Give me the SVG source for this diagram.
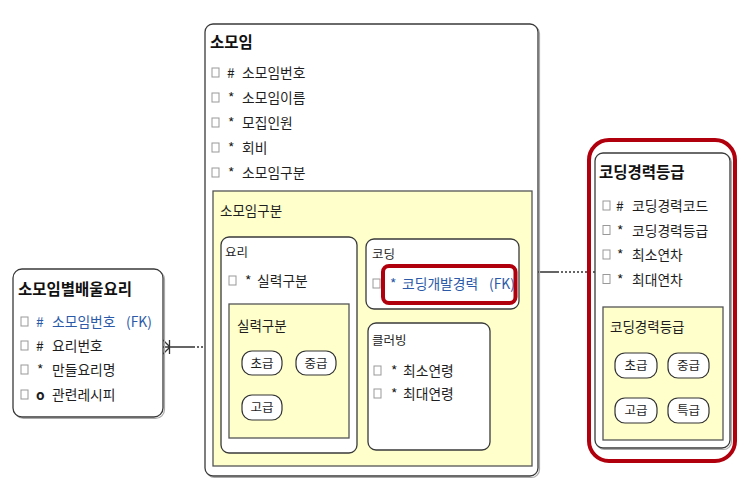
<svg xmlns="http://www.w3.org/2000/svg" width="748" height="504" viewBox="0 0 748 504">
<style>
text{font-family:"Noto Sans CJK KR","Noto Sans",sans-serif;fill:#1e1e1e}
.t{font-size:15.5px;font-weight:bold;fill:#111}
.a{font-size:13.8px}
.s{font-size:13.5px}
.st{font-size:12.5px}
.p{font-size:12.5px;text-anchor:middle}
.fk{fill:#2b5aa8}
.box{fill:#fff;stroke:#3a3a3a;stroke-width:1.3}
.sh{fill:none;stroke:#aaa;stroke-width:1.2}
.yel{fill:#ffffcc;stroke:#555;stroke-width:1.3}
.pill{fill:#fff;stroke:#333;stroke-width:1.2}
.cb{fill:#fff;stroke:#999;stroke-width:1}
.red{fill:none;stroke:#b0000e;stroke-width:4}
.ln{fill:none;stroke:#333;stroke-width:1.3}
.dot{fill:none;stroke:#333;stroke-width:1.3;stroke-dasharray:2 2}
</style>

<g id="connectors">
  <path class="ln" d="M163,340 L170,347 L163,354 M163,347 L193,347 M169.5,340 L169.5,354"/>
  <path class="dot" d="M193,347 L221,347"/>
  <path class="ln" d="M519,263 L525,272 L519,281 M519,272 L557,272"/>
  <path class="dot" d="M557,272 L595,272"/>
</g>

<g id="somoim">
  <rect class="sh" x="206.5" y="25.5" width="333" height="452" rx="8"/>
  <rect class="box" x="205" y="24" width="333" height="452" rx="8"/>
  <text class="t" x="210" y="48">소모임</text>
  <rect class="cb" x="212" y="68" width="7" height="9"/><text class="a" x="227" y="78">#</text><text class="a" x="242" y="78">소모임번호</text>
  <rect class="cb" x="212" y="93" width="7" height="9"/><text class="a" x="228" y="103">*</text><text class="a" x="242" y="103">소모임이름</text>
  <rect class="cb" x="212" y="118" width="7" height="9"/><text class="a" x="228" y="128">*</text><text class="a" x="242" y="128">모집인원</text>
  <rect class="cb" x="212" y="143" width="7" height="9"/><text class="a" x="228" y="153">*</text><text class="a" x="242" y="153">회비</text>
  <rect class="cb" x="212" y="168" width="7" height="9"/><text class="a" x="228" y="178">*</text><text class="a" x="242" y="178">소모임구분</text>
  <g id="somoim-gubun">
    <rect class="yel" x="213" y="191" width="319" height="275"/>
    <text class="s" x="220" y="216">소모임구분</text>
  </g>
  <g id="yori">
    <rect class="box" x="221" y="237" width="136" height="216" rx="8"/>
    <text class="st" x="225" y="257">요리</text>
    <rect class="cb" x="229" y="276" width="7" height="9"/><text class="a" x="245" y="286">*</text><text class="a" x="257" y="286">실력구분</text>
    <g id="yori-level">
      <rect class="yel" x="229" y="304" width="120" height="134"/>
      <text class="s" x="237" y="331">실력구분</text>
      <rect class="pill" x="242" y="351" width="40" height="24" rx="10"/><text class="p" x="262" y="368">초급</text>
      <rect class="pill" x="296" y="351" width="40" height="24" rx="10"/><text class="p" x="316" y="368">중급</text>
      <rect class="pill" x="242" y="395" width="40" height="25" rx="10"/><text class="p" x="262" y="412">고급</text>
    </g>
  </g>
  <g id="coding">
    <rect class="box" x="366" y="239" width="153" height="70" rx="8"/>
    <text class="st" x="372" y="259">코딩</text>
    <rect class="cb" x="373" y="279" width="7" height="9"/>
    <text class="a fk" x="390" y="289">*</text><text class="a fk" x="402" y="289">코딩개발경력</text><text class="a fk" x="489" y="289">(FK)</text>
    <rect class="red" x="383" y="266" width="132.5" height="37" rx="6"/>
  </g>
  <g id="clubbing">
    <rect class="box" x="368" y="323" width="122" height="127" rx="8"/>
    <text class="st" x="372" y="345">클러빙</text>
    <rect class="cb" x="374" y="366" width="7" height="9"/><text class="a" x="391" y="376">*</text><text class="a" x="403" y="376">최소연령</text>
    <rect class="cb" x="374" y="389" width="7" height="9"/><text class="a" x="391" y="399">*</text><text class="a" x="403" y="399">최대연령</text>
  </g>
</g>

<g id="somoim-yori">
  <rect class="sh" x="14.5" y="270.5" width="150" height="148" rx="9"/>
  <rect class="box" x="13" y="269" width="150" height="148" rx="9"/>
  <text class="t" x="18" y="295">소모임별배울요리</text>
  <rect class="cb" x="21" y="317" width="7" height="9"/><text class="a fk" x="36" y="327">#</text><text class="a fk" x="52" y="327">소모임번호</text><text class="a fk" x="126" y="327">(FK)</text>
  <rect class="cb" x="21" y="341" width="7" height="9"/><text class="a" x="36" y="351">#</text><text class="a" x="52" y="351">요리번호</text>
  <rect class="cb" x="21" y="365" width="7" height="9"/><text class="a" x="37" y="375">*</text><text class="a" x="52" y="375">만들요리명</text>
  <rect class="cb" x="21" y="390" width="7" height="9"/><text class="a" x="36" y="400" font-weight="bold">o</text><text class="a" x="52" y="400">관련레시피</text>
</g>

<g id="coding-grade">
  <rect class="sh" x="596.5" y="154.5" width="135" height="295" rx="8"/>
  <rect class="box" x="595" y="153" width="135" height="295" rx="8"/>
  <text class="t" x="599" y="178">코딩경력등급</text>
  <rect class="cb" x="603" y="201" width="7" height="9"/><text class="a" x="616" y="211">#</text><text class="a" x="632" y="211">코딩경력코드</text>
  <rect class="cb" x="603" y="225.5" width="7" height="9"/><text class="a" x="617" y="235.5">*</text><text class="a" x="632" y="235.5">코딩경력등급</text>
  <rect class="cb" x="603" y="250" width="7" height="9"/><text class="a" x="617" y="260">*</text><text class="a" x="632" y="260">최소연차</text>
  <rect class="cb" x="603" y="274.5" width="7" height="9"/><text class="a" x="617" y="284.5">*</text><text class="a" x="632" y="284.5">최대연차</text>
  <g id="coding-grade-enum">
    <rect class="yel" x="603" y="307" width="120" height="133"/>
    <text class="s" x="610" y="332">코딩경력등급</text>
    <rect class="pill" x="615" y="353" width="42" height="25" rx="10"/><text class="p" x="636" y="370">초급</text>
    <rect class="pill" x="668" y="353" width="41" height="25" rx="10"/><text class="p" x="688.5" y="370">중급</text>
    <rect class="pill" x="615" y="398" width="42" height="25" rx="10"/><text class="p" x="636" y="415">고급</text>
    <rect class="pill" x="668" y="398" width="41" height="25" rx="10"/><text class="p" x="688.5" y="415">특급</text>
  </g>
  <rect class="red" x="589" y="140" width="146" height="321" rx="20"/>
</g>
</svg>
